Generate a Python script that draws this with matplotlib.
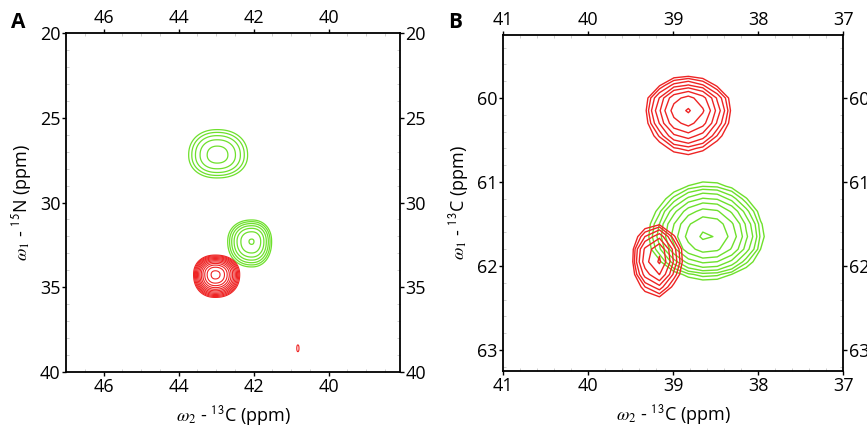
import numpy as np
import matplotlib
matplotlib.use('Agg')
import matplotlib.pyplot as plt
from matplotlib.ticker import MultipleLocator

plt.rcParams['font.family'] = ['Open Sans', 'DejaVu Sans']
plt.rcParams['mathtext.fontset'] = 'stix'

# peaks: centre (ppm), outer half widths at lowest level
# (left, right, up, down as drawn) and height in units of the lowest level
# panel A: 13C-15N
a_green_x = [42.97, 42.05]
a_green_y = [27.20, 32.30]
a_green_w = [(0.76, 0.81, 1.50, 1.35), (0.64, 0.53, 1.27, 1.50)]
a_green_h = [3.21, 4.89]

a_red_x = [43.02, 40.82]
a_red_y = [34.25, 38.60]
a_red_w = [(0.58, 0.65, 1.15, 1.35), (0.03, 0.03, 0.20, 0.20)]
a_red_h = [19.4, 1.17]

# panel B: 13C-13C
b_green_x = [38.60]
b_green_y = [61.65]
b_green_w = [(0.67, 0.66, 0.64, 0.50)]
b_green_h = [8.6]

b_red_x = [38.84, 39.19]
b_red_y = [60.12, 61.90]
b_red_w = [(0.47, 0.51, 0.36, 0.54), (0.27, 0.27, 0.39, 0.46)]
b_red_h = [6.53, 5.22]

a_xticks = [46, 44, 42, 40]
a_yticks = [20, 25, 30, 35, 40]
b_xticks = [41, 40, 39, 38, 37]
b_yticks = [60, 61, 62, 63]

level_factor = 1.3
n_levels = 14
levels = level_factor ** np.arange(n_levels)

green = '#6ee02c'
red = '#ee2424'


def spectrum(X, Y, xs, ys, ws, hs, p):
    Z = np.zeros_like(X)
    for x0, y0, w, h in zip(xs, ys, ws, hs):
        wl, wr, wu, wd = w
        k = np.log(h) ** (1.0 / p)
        dx = X - x0
        dy = Y - y0
        sx = np.where(dx > 0, wl, wr) / k
        sy = np.where(dy < 0, wu, wd) / k
        Z += h * np.exp(-(np.abs(dx / sx) ** p + np.abs(dy / sy) ** p))
    return Z


fig = plt.figure(figsize=(8.67, 4.28), dpi=100)
axA = fig.add_axes([0.0761, 0.1308, 0.3852, 0.7921])
axB = fig.add_axes([0.5802, 0.1332, 0.3922, 0.785])

# panel A
xa = np.linspace(38.0, 47.0, 900)
ya = np.linspace(20.0, 40.0, 1000)
XA, YA = np.meshgrid(xa, ya)
axA.contour(XA, YA, spectrum(XA, YA, a_green_x, a_green_y, a_green_w, a_green_h, 2.2),
            levels=levels, colors=green, linewidths=0.9)
axA.contour(XA, YA, spectrum(XA, YA, a_red_x, a_red_y, a_red_w, a_red_h, 2.2),
            levels=levels, colors=red, linewidths=0.8)
axA.set_xlim(47, 38.1)
axA.set_ylim(40, 20)
axA.set_xticks(a_xticks)
axA.set_yticks(a_yticks)
axA.xaxis.set_minor_locator(MultipleLocator(0.5))
axA.yaxis.set_minor_locator(MultipleLocator(1))

# panel B (coarse digital resolution -> polygonal contours)
xb = np.arange(36.95, 41.1, 0.17)
yb = np.arange(59.1, 63.4, 0.15)
XB, YB = np.meshgrid(xb, yb)
axB.contour(XB, YB, spectrum(XB, YB, b_green_x, b_green_y, b_green_w, b_green_h, 2.0),
            levels=levels, colors=green, linewidths=1.0)
axB.contour(XB, YB, spectrum(XB, YB, b_red_x, b_red_y, b_red_w, b_red_h, 2.0),
            levels=levels, colors=red, linewidths=1.0)
axB.set_xlim(41, 37)
axB.set_ylim(63.25, 59.25)
axB.set_xticks(b_xticks)
axB.set_yticks(b_yticks)
axB.xaxis.set_minor_locator(MultipleLocator(0.2))
axB.yaxis.set_minor_locator(MultipleLocator(0.2))

for ax in (axA, axB):
    for s in ax.spines.values():
        s.set_linewidth(1.3)
    ax.tick_params(which='major', direction='out', length=3, width=1,
                   top=True, right=True, labeltop=True, labelright=True,
                   labelsize=13, pad=1)
    ax.tick_params(which='minor', direction='in', length=2, width=0.5,
                   color='#bbbbbb', top=True, right=True)

xlab = r'$\omega_2$ - $^{\mathsf{13}}$C (ppm)'
axA.set_xlabel(xlab, fontsize=13, labelpad=6)
axB.set_xlabel(xlab, fontsize=13, labelpad=6)
axA.set_ylabel(r'$\omega_1$ - $^{\mathsf{15}}$N (ppm)', fontsize=13, labelpad=4)
axB.set_ylabel(r'$\omega_1$ - $^{\mathsf{13}}$C (ppm)', fontsize=13, labelpad=4)

fig.text(18 / 867, 1 - 22 / 428, 'A', fontsize=15, fontweight='bold', ha='center', va='center')
fig.text(455 / 867, 1 - 22 / 428, 'B', fontsize=15, fontweight='bold', ha='center', va='center')

fig.savefig('out.png', dpi=100)
